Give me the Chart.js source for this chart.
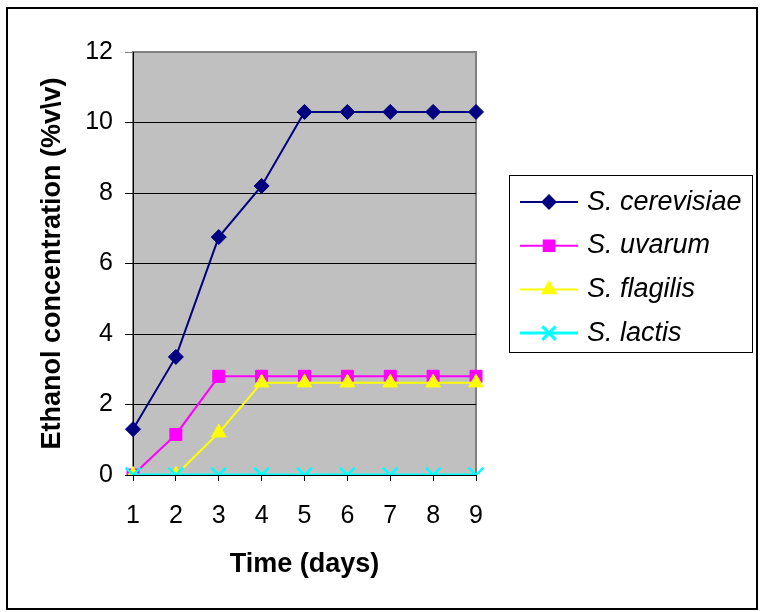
<!DOCTYPE html>
<html>
<head>
<meta charset="utf-8">
<title>Ethanol concentration</title>
<script src="https://cdn.jsdelivr.net/npm/chart.js@4.4.0/dist/chart.umd.min.js"></script>
<style>
body{
    margin:0;
    background:#ffffff;
}
</style>
</head>
<body>
<canvas id="ethanolChart" width="760" height="612"></canvas>
<script>

// values
const days = ['1','2','3','4','5','6','7','8','9'];

const cerevisiae = [1.3, 3.35, 6.75, 8.2, 10.3, 10.3, 10.3, 10.3, 10.3];
const uvarum = [0, 1.15, 2.8, 2.8, 2.8, 2.8, 2.8, 2.8, 2.8];
const flagilis = [0, 0, 1.2, 2.62, 2.62, 2.62, 2.62, 2.62, 2.62];
const lactis = [0, 0, 0, 0, 0, 0, 0, 0, 0];

const seriesNames = ['S. cerevisiae','S. uvarum','S. flagilis','S. lactis'];
const seriesColors = ['#000080','#FF00FF','#FFFF00','#00FFFF'];
const seriesMarkers = ['rectRot','rect','triangle','crossRot'];
const markerSizes = [7.5, 8.5, 8.5, 10.5];
const lineWidths = [2, 2, 2, 3];

const yTicks = [0, 2, 4, 6, 8, 10, 12];

const fontFamily = '"Liberation Sans", Arial, sans-serif';

function makeDataset(i, values){
    return {
        label: seriesNames[i],
        data: values,
        borderColor: seriesColors[i],
        backgroundColor: seriesColors[i],
        borderWidth: lineWidths[i],
        pointStyle: seriesMarkers[i],
        pointRadius: markerSizes[i],
        pointBorderWidth: i === 3 ? 2.5 : 1,
        pointBackgroundColor: seriesColors[i],
        pointBorderColor: seriesColors[i],
        tension: 0,
        order: 3 - i
    };
}

// gray plot area and the outer frame
const frame = {
    id: 'frame',
    beforeDraw(chart){
        let ctx = chart.ctx;
        let a = chart.chartArea;
        ctx.save();
        ctx.fillStyle = '#ffffff';
        ctx.fillRect(0, 0, chart.width, chart.height);
        ctx.strokeStyle = '#000000';
        ctx.lineWidth = 2;
        ctx.strokeRect(7, 8, chart.width - 10, chart.height - 11);
        ctx.fillStyle = '#C0C0C0';
        ctx.fillRect(a.left, a.top, a.right - a.left, a.bottom - a.top);
        ctx.strokeStyle = '#808080';
        ctx.lineWidth = 2;
        ctx.strokeRect(a.left, a.top, a.right - a.left, a.bottom - a.top);
        ctx.restore();
    }
};

// legend box on the right, like the original
const boxLegend = {
    id: 'boxLegend',
    afterDraw(chart){
        let ctx = chart.ctx;
        let left = 509, top = 175, width = 243, height = 177;
        ctx.save();
        ctx.strokeStyle = '#000000';
        ctx.lineWidth = 1;
        ctx.strokeRect(left + 0.5, top + 0.5, width, height);

        seriesNames.forEach((name, i) => {
            let y = top + 27 + i * 43.7;
            ctx.strokeStyle = seriesColors[i];
            ctx.lineWidth = lineWidths[i];
            ctx.beginPath();
            ctx.moveTo(520, y);
            ctx.lineTo(578, y);
            ctx.stroke();

            ctx.fillStyle = seriesColors[i];
            Chart.helpers.drawPoint(ctx, {
                pointStyle: seriesMarkers[i],
                radius: markerSizes[i] - 1,
                borderWidth: i === 3 ? 2.5 : 1,
                rotation: 0
            }, 549, y);

            ctx.fillStyle = '#000000';
            ctx.font = 'italic 27px ' + fontFamily;
            ctx.textBaseline = 'middle';
            ctx.textAlign = 'left';
            ctx.fillText(name, 587, y);
        });
        ctx.restore();
    }
};

const canvas =
document.getElementById('ethanolChart');

new Chart(canvas, {

    type: 'line',

    data: {
        labels: days,
        datasets: [
            makeDataset(0, cerevisiae),
            makeDataset(1, uvarum),
            makeDataset(2, flagilis),
            makeDataset(3, lactis)
        ]
    },

    options: {
        responsive: false,
        animation: false,
        layout: {
            padding: {left: 0, top: 52, right: 284, bottom: 0}
        },
        plugins: {
            legend: {display: false},
            tooltip: {enabled: false}
        },
        scales: {
            x: {
                offset: false,
                afterFit(scale){ scale.height = 137; },
                grid: {
                    drawOnChartArea: false,
                    color: '#000000',
                    tickLength: 6
                },
                border: {color: '#000000', width: 1},
                ticks: {
                    color: '#000000',
                    font: {family: fontFamily, size: 25},
                    padding: 20,
                    maxRotation: 0,
                    autoSkip: false
                },
                title: {
                    display: true,
                    text: 'Time (days)',
                    color: '#000000',
                    font: {family: fontFamily, size: 27, weight: 'bold'},
                    padding: {top: 0, bottom: 31}
                }
            },
            y: {
                min: 0,
                max: 12,
                afterFit(scale){ scale.width = 133; },
                afterBuildTicks(scale){
                    scale.ticks = yTicks.map(v => ({value: v}));
                },
                grid: {
                    color: (c) => (c.tick && c.tick.value === 12) ? '#808080' : '#000000',
                    tickLength: 8,
                    lineWidth: 1
                },
                border: {color: '#000000', width: 1},
                ticks: {
                    color: '#000000',
                    font: {family: fontFamily, size: 25},
                    padding: 12
                },
                title: {
                    display: true,
                    text: 'Ethanol concentration (%v\\v)',
                    color: '#000000',
                    font: {family: fontFamily, size: 27, weight: 'bold'},
                    padding: {top: 36, bottom: 0}
                }
            }
        }
    },

    plugins: [frame, boxLegend]
});

</script>
</body>
</html>
